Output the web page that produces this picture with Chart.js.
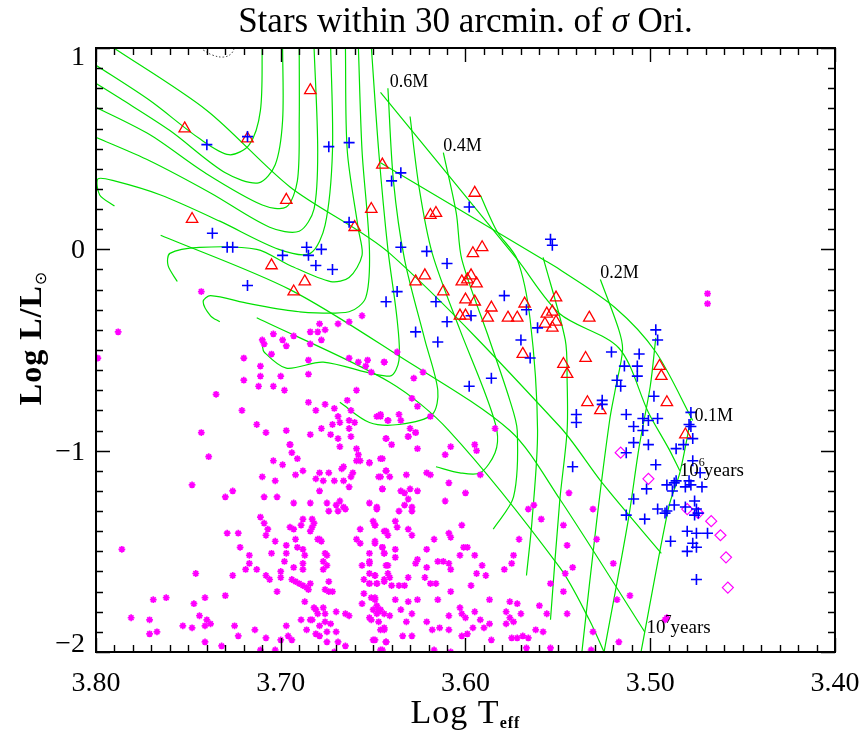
<!DOCTYPE html>
<html>
<head>
<meta charset="utf-8">
<script src="https://cdn.jsdelivr.net/npm/chart.js@4.4.0/dist/chart.umd.min.js"></script>
<style>
  html, body { margin: 0; padding: 0; background: #fff; }
  #hr { display: block; }
</style>
</head>
<body>
<canvas id="hr" width="865" height="733"></canvas>
<script>
// Log Teff / Log L values

const xTicks = [3.80, 3.70, 3.60, 3.50, 3.40];
const yTicks = [1, 0, -1, -2];

// evolutionary tracks (green)
const track01 = [[3.478,-0.84],[3.484,-1.11],[3.490,-1.28],[3.505,-2.00]];
const track015 = [[3.497,-0.44],[3.500,-0.68],[3.506,-0.98],[3.512,-1.35],[3.525,-2.00]];
const track02 = [[3.527,-0.15],[3.517,-0.40],[3.515,-0.50],[3.519,-0.70],[3.522,-0.85],[3.529,-1.35],[3.537,-2.00]];
const track025 = [[3.558,-0.04],[3.546,-0.45],[3.545,-0.65],[3.545,-0.90],[3.549,-1.25],[3.554,-1.84]];
const track03 = [[3.592,0.27],[3.583,0.09],[3.572,-0.05],[3.565,-0.35],[3.561,-0.90],[3.564,-1.35],[3.567,-1.62]];
const track04 = [[3.612,0.48],[3.605,0.18],[3.602,-0.05],[3.587,-0.45],[3.576,-0.75],[3.572,-0.90],[3.574,-1.23],[3.585,-1.39]];
const track05 = [[3.630,0.66],[3.625,0.30],[3.618,-0.02],[3.603,-0.40],[3.590,-0.70],[3.583,-0.90],[3.584,-1.01],[3.592,-1.11],[3.603,-1.11],[3.616,-1.08]];
const track06 = [[3.642,0.80],[3.639,0.34],[3.633,-0.05],[3.622,-0.45],[3.615,-0.70],[3.618,-0.82],[3.636,-0.87],[3.652,-0.86],[3.668,-0.76]];
const track07 = [[3.651,1.01],[3.647,0.49],[3.642,0.00],[3.637,-0.35],[3.636,-0.55],[3.641,-0.63],[3.677,-0.56],[3.697,-0.59],[3.709,-0.51],[3.710,-0.475]];
const track08 = [[3.658,1.01],[3.656,0.49],[3.652,0.00],[3.654,-0.24],[3.663,-0.31],[3.690,-0.31],[3.717,-0.27],[3.738,-0.23],[3.742,-0.26],[3.738,-0.33],[3.733,-0.36]];
const track09 = [[3.665,1.01],[3.664,0.49],[3.658,0.10],[3.656,-0.03],[3.663,-0.14],[3.673,-0.16],[3.695,-0.08],[3.713,0.00],[3.744,0.01],[3.760,-0.02],[3.761,-0.08],[3.756,-0.16]];
const track10 = [[3.673,1.01],[3.672,0.49],[3.676,0.12],[3.684,-0.02],[3.701,0.00],[3.733,0.14],[3.765,0.27],[3.790,0.34],[3.799,0.35],[3.798,0.27],[3.790,0.215]];
const track12 = [[3.682,1.01],[3.680,0.49],[3.682,0.20],[3.690,0.09],[3.706,0.11],[3.738,0.28],[3.771,0.44],[3.801,0.56]];
const track15 = [[3.690,1.01],[3.690,0.64],[3.691,0.34],[3.697,0.21],[3.710,0.22],[3.741,0.38],[3.771,0.57],[3.801,0.71]];
const track20 = [[3.699,1.01],[3.699,0.64],[3.703,0.42],[3.712,0.33],[3.730,0.38],[3.760,0.59],[3.787,0.75],[3.801,0.83]];
const track25 = [[3.710,1.01],[3.711,0.69],[3.717,0.52],[3.728,0.47],[3.744,0.55],[3.771,0.74],[3.801,0.92]];

// isochrones (green)
const isoYoung = [[3.646,0.43],[3.558,-0.05],[3.549,-0.10],[3.519,-0.29],[3.497,-0.51],[3.477,-0.85]];
const iso1e6 = [[3.646,0.78],[3.572,-0.05],[3.549,-0.32],[3.517,-0.49],[3.501,-0.81],[3.490,-0.99],[3.484,-1.10]];
const isoMid = [[3.792,1.01],[3.740,0.69],[3.695,0.31],[3.641,-0.02],[3.549,-0.88],[3.526,-1.16],[3.494,-1.51]];
const iso1e7 = [[3.765,0.07],[3.695,-0.20],[3.636,-0.53],[3.576,-0.90],[3.549,-1.24],[3.503,-1.90]];
const isoOld = [[3.713,-0.34],[3.641,-0.66],[3.609,-0.90],[3.549,-1.58],[3.533,-1.84],[3.525,-2.00]];

const dottedArc = [[3.742,0.99],[3.737,0.965],[3.731,0.955],[3.727,0.97],[3.725,1.0]];

// red triangles
const triStars = [
  [3.752,0.60],[3.718,0.55],[3.684,0.79],[3.697,0.245],[3.748,0.15],[3.645,0.42],[3.651,0.20],[3.660,0.11],
  [3.595,0.28],[3.619,0.17],[3.616,0.18],[3.596,-0.02],[3.591,0.01],[3.627,-0.16],[3.622,-0.13],[3.602,-0.16],
  [3.599,-0.15],[3.597,-0.13],[3.594,-0.17],[3.612,-0.21],[3.600,-0.25],[3.595,-0.26],[3.603,-0.33],[3.600,-0.33],
  [3.588,-0.34],[3.586,-0.29],[3.577,-0.34],[3.572,-0.34],[3.568,-0.27],[3.556,-0.32],[3.553,-0.31],[3.551,-0.24],
  [3.557,-0.37],[3.553,-0.39],[3.551,-0.36],[3.569,-0.52],[3.547,-0.57],[3.545,-0.62],[3.535,-0.54],[3.534,-0.76],
  [3.533,-0.34],[3.527,-0.80],[3.495,-0.58],[3.494,-0.63],[3.491,-0.76],[3.481,-0.92],[3.705,-0.08],[3.687,-0.16],
  [3.693,-0.21]
];

// blue crosses
const plusStars = [
  [3.718,0.56],[3.740,0.52],[3.674,0.51],[3.663,0.53],[3.737,0.08],[3.729,0.01],[3.726,0.01],[3.699,-0.03],
  [3.686,0.01],[3.685,-0.03],[3.678,0.00],[3.663,0.135],[3.640,0.34],[3.635,0.38],[3.598,0.21],[3.554,0.05],
  [3.553,0.02],[3.635,0.01],[3.621,-0.01],[3.610,-0.07],[3.637,-0.21],[3.643,-0.26],[3.616,-0.26],[3.610,-0.36],
  [3.627,-0.41],[3.615,-0.46],[3.597,-0.33],[3.579,-0.23],[3.567,-0.30],[3.561,-0.39],[3.570,-0.45],[3.565,-0.54],
  [3.586,-0.64],[3.598,-0.68],[3.540,-0.82],[3.540,-0.86],[3.681,-0.08],[3.672,-0.10],[3.718,-0.18],
  [3.521,-0.51],[3.506,-0.52],[3.497,-0.40],[3.496,-0.45],[3.514,-0.58],[3.507,-0.58],[3.507,-0.63],[3.518,-0.65],
  [3.516,-0.68],[3.498,-0.73],[3.526,-0.75],[3.526,-0.77],[3.513,-0.82],[3.509,-0.88],[3.504,-0.90],[3.504,-0.84],
  [3.501,-0.85],[3.496,-0.84],[3.478,-0.81],[3.479,-0.87],[3.478,-0.88],[3.477,-0.94],[3.482,-0.97],[3.509,-0.96],
  [3.501,-0.97],[3.486,-0.99],[3.513,-1.01],[3.542,-1.08],[3.497,-1.07],[3.477,-1.05],[3.473,-1.11],[3.491,-1.17],
  [3.487,-1.16],[3.488,-1.20],[3.486,-1.15],[3.479,-1.15],[3.481,-1.18],[3.478,-1.17],[3.472,-1.18],[3.502,-1.19],
  [3.509,-1.24],[3.487,-1.27],[3.496,-1.29],[3.492,-1.31],[3.491,-1.30],[3.513,-1.32],[3.503,-1.34],[3.481,-1.28],
  [3.476,-1.25],[3.475,-1.29],[3.474,-1.31],[3.476,-1.32],[3.480,-1.40],[3.475,-1.41],[3.469,-1.41],[3.489,-1.45],
  [3.477,-1.46],[3.475,-1.48],[3.480,-1.50],[3.475,-1.64]
];

// magenta diamonds
const diamondStars = [[3.516,-1.01],[3.501,-1.14],[3.480,-1.29],[3.474,-1.31],[3.467,-1.35],[3.462,-1.42],[3.459,-1.53],[3.458,-1.68]];

// magenta asterisks (field stars)
const fieldStars = [
  [3.469,-0.22],[3.469,-0.27],
  [3.544,-1.21],[3.531,-1.29],[3.547,-1.37],[3.529,-1.44],[3.545,-1.47],[3.542,-1.58],[3.546,-1.61],[3.520,-1.56],
  [3.547,-1.70],[3.511,-1.72],[3.518,-1.74],[3.545,-1.81],[3.531,-1.90],[3.517,-1.95],[3.532,-1.99],[3.491,-1.83],[3.492,-1.84],
  [3.643,-0.94],[3.640,-0.97],[3.631,-0.93],[3.627,-0.91],[3.626,-0.99],[3.645,-1.04],[3.652,-1.06],[3.643,-1.10],
  [3.646,-1.13],[3.641,-1.13],[3.632,-1.12],[3.621,-1.11],[3.619,-1.12],[3.608,-0.98],[3.611,-1.02],[3.595,-0.97],
  [3.594,-1.00],[3.592,-1.12],[3.609,-1.16],[3.600,-1.21],[3.645,-1.19],[3.635,-1.20],[3.633,-1.21],[3.630,-1.19],
  [3.626,-1.20],[3.631,-1.24],[3.652,-1.26],[3.648,-1.29],[3.633,-1.27],[3.629,-1.28],[3.629,-1.30],[3.636,-1.30],
  [3.611,-1.25],[3.566,-1.29],[3.563,-1.27],[3.559,-1.34],[3.571,-1.44],[3.554,-1.66],[3.556,-1.81],[3.560,-1.77],
  [3.649,-1.37],[3.644,-1.40],[3.642,-1.42],[3.637,-1.38],[3.638,-1.35],[3.631,-1.39],[3.629,-1.42],[3.649,-1.46],
  [3.617,-1.44],[3.609,-1.41],[3.608,-1.43],[3.602,-1.37],[3.645,-1.48],[3.638,-1.49],[3.644,-1.51],[3.638,-1.53],
  [3.652,-1.55],[3.642,-1.57],[3.642,-1.61],[3.641,-1.63],[3.649,-1.62],[3.644,-1.65],[3.648,-1.66],[3.652,-1.66],
  [3.640,-1.67],[3.636,-1.67],[3.633,-1.67],[3.631,-1.63],[3.627,-1.56],[3.626,-1.54],[3.621,-1.58],[3.622,-1.63],
  [3.619,-1.66],[3.616,-1.66],[3.615,-1.55],[3.612,-1.55],[3.609,-1.56],[3.608,-1.59],[3.621,-1.49],[3.601,-1.48],
  [3.599,-1.48],[3.603,-1.52],[3.595,-1.52],[3.591,-1.57],[3.589,-1.62],[3.594,-1.61],[3.597,-1.67],[3.608,-1.70],
  [3.615,-1.74],[3.626,-1.74],[3.631,-1.75],[3.638,-1.74],[3.649,-1.73],[3.650,-1.79],[3.648,-1.81],[3.647,-1.85],
  [3.641,-1.82],[3.635,-1.79],[3.629,-1.81],[3.632,-1.85],[3.644,-1.89],[3.634,-1.92],[3.629,-1.92],[3.649,-1.94],
  [3.643,-1.95],[3.645,-1.99],[3.621,-1.85],[3.618,-1.89],[3.614,-1.88],[3.609,-1.89],[3.609,-1.82],[3.603,-1.78],
  [3.602,-1.81],[3.600,-1.83],[3.595,-1.80],[3.592,-1.84],[3.590,-1.88],[3.587,-1.86],[3.596,-1.88],[3.602,-1.92],
  [3.599,-1.91],[3.586,-1.94],[3.587,-1.74],[3.579,-1.59],[3.574,-1.52],[3.575,-1.56],[3.576,-1.75],[3.572,-1.76],
  [3.578,-1.80],[3.576,-1.83],[3.574,-1.85],[3.578,-1.86],[3.570,-1.81],[3.562,-1.89],[3.558,-1.90],[3.569,-1.92],
  [3.572,-1.93],[3.575,-1.93],[3.566,-1.93],[3.567,-1.98],[3.554,-1.98],[3.617,-1.99],[3.608,-2.00],
  [3.743,-0.21],[3.788,-0.41],[3.799,-0.54],[3.679,-0.37],[3.669,-0.37],[3.663,-0.36],[3.656,-0.33],[3.704,-0.42],
  [3.710,-0.45],[3.709,-0.47],[3.699,-0.45],[3.697,-0.48],[3.693,-0.43],[3.684,-0.41],[3.680,-0.41],[3.676,-0.40],
  [3.678,-0.45],[3.684,-0.47],[3.705,-0.52],[3.720,-0.54],[3.711,-0.58],[3.711,-0.63],[3.720,-0.65],[3.712,-0.68],
  [3.700,-0.63],[3.704,-0.68],[3.698,-0.70],[3.735,-0.72],[3.721,-0.80],[3.713,-0.87],[3.708,-0.91],[3.697,-0.90],
  [3.743,-0.91],[3.695,-0.97],[3.685,-0.55],[3.685,-0.62],[3.685,-0.76],[3.681,-0.80],[3.676,-0.77],[3.678,-0.89],
  [3.684,-0.92],[3.673,-0.92],[3.671,-0.79],[3.669,-0.83],[3.668,-0.86],[3.672,-0.87],[3.664,-0.75],[3.662,-0.80],
  [3.663,-0.85],[3.660,-0.86],[3.663,-0.89],[3.662,-0.93],[3.669,-0.94],[3.668,-0.98],[3.663,-0.54],[3.658,-0.56],
  [3.654,-0.58],[3.653,-0.55],[3.651,-0.61],[3.644,-0.56],[3.659,-0.70],[3.648,-0.83],[3.646,-0.82],[3.642,-0.85],
  [3.643,-0.94],[3.659,-0.99],
  [3.739,-1.03],[3.748,-1.17],[3.730,-1.23],[3.726,-1.20],[3.786,-1.49],[3.781,-1.83],[3.771,-1.84],[3.771,-1.91],
  [3.767,-1.90],[3.769,-1.74],[3.762,-1.73],[3.753,-1.87],[3.748,-1.88],[3.747,-1.76],[3.746,-1.61],[3.744,-1.82],
  [3.741,-1.73],[3.740,-1.84],[3.741,-1.87],[3.738,-1.86],[3.741,-1.95],[3.732,-1.97],[3.729,-1.41],[3.723,-1.41],
  [3.722,-1.48],[3.726,-1.62],[3.730,-1.72],[3.725,-1.87],[3.723,-1.92],[3.717,-1.52],[3.717,-1.56],[3.719,-1.59],
  [3.713,-1.59],[3.714,-1.89],[3.708,-1.93],[3.711,-1.99],[3.710,-1.13],[3.709,-1.23],[3.704,-1.05],[3.703,-1.15],
  [3.702,-1.23],[3.699,-1.07],[3.711,-1.33],[3.709,-1.36],[3.707,-1.39],[3.708,-1.42],[3.703,-1.45],[3.705,-1.51],
  [3.708,-1.62],[3.706,-1.64],[3.700,-1.63],[3.702,-1.70],[3.700,-1.60],[3.698,-1.55],[3.697,-1.47],[3.697,-1.51],
  [3.703,-1.99],[3.700,-1.94],[3.697,-1.87],[3.696,-1.92],[3.694,-1.94],[3.695,-0.97],[3.694,-1.01],[3.691,-1.04],
  [3.688,-1.10],[3.692,-1.12],[3.693,-1.26],[3.695,-1.38],[3.693,-1.39],[3.689,-1.37],[3.691,-1.48],[3.688,-1.49],
  [3.693,-1.58],[3.688,-1.59],[3.692,-1.44],[3.694,-1.64],[3.692,-1.65],[3.690,-1.66],[3.688,-1.67],[3.686,-1.68],
  [3.684,-1.66],[3.685,-1.69],[3.687,-1.75],[3.689,-1.84],[3.684,-1.84],[3.686,-1.89],[3.687,-1.52],[3.688,-1.56],
  [3.684,-1.26],[3.683,-1.34],[3.683,-1.38],[3.682,-1.36],[3.684,-1.40],[3.680,-1.44],[3.679,-1.44],[3.678,-1.45],
  [3.676,-1.51],[3.677,-1.55],[3.675,-1.52],[3.675,-1.57],[3.677,-1.59],[3.674,-1.65],[3.672,-1.70],[3.674,-1.70],
  [3.676,-1.69],[3.681,-1.79],[3.682,-1.78],[3.680,-1.81],[3.677,-1.78],[3.676,-1.81],[3.679,-1.87],[3.683,-1.84],
  [3.681,-1.91],[3.679,-1.92],[3.676,-1.85],[3.675,-1.90],[3.670,-1.90],[3.673,-1.86],[3.670,-1.80],[3.675,-1.95],
  [3.671,-2.00],[3.665,-1.97],[3.669,-1.95],[3.681,-1.14],[3.677,-1.15],[3.679,-1.11],[3.674,-1.11],[3.671,-1.15],
  [3.675,-1.26],[3.670,-1.27],[3.669,-1.30],[3.666,-1.28],[3.665,-1.29],[3.668,-1.25],[3.674,-1.30],[3.666,-1.15],
  [3.666,-1.08],[3.667,-1.09],[3.661,-1.11],[3.662,-1.13],[3.659,-1.05],[3.658,-1.02],[3.657,-1.05],[3.652,-1.06],
  [3.663,-1.18],[3.647,-1.13],[3.645,-1.19],[3.643,-1.10],[3.646,-1.04],[3.648,-1.28],[3.650,-1.35],[3.649,-1.37],
  [3.643,-1.40],[3.659,-1.44],[3.657,-1.39],[3.657,-1.46],[3.656,-1.57],[3.652,-1.56],[3.652,-1.51],[3.649,-1.45],
  [3.645,-1.48],[3.644,-1.51],[3.643,-1.57],[3.655,-1.64],[3.652,-1.66],[3.652,-1.61],[3.649,-1.62],[3.648,-1.66],
  [3.644,-1.64],[3.651,-1.73],[3.656,-1.76],[3.649,-1.74],[3.648,-1.77],[3.647,-1.79],[3.646,-1.79],[3.644,-1.81],
  [3.652,-1.83],[3.651,-1.84],[3.647,-1.80],[3.644,-1.88],[3.646,-1.89],[3.650,-1.94],[3.643,-1.95],[3.646,-1.99],
  [3.655,-1.71],[3.663,-1.82],[3.665,-1.81],[3.679,-1.20],[3.688,-1.34],
  [3.637,-0.51],[3.644,-0.56],[3.628,-0.64],[3.623,-0.61],[3.629,-0.74],[3.626,-0.78],[3.619,-0.83],[3.646,-0.83],
  [3.642,-0.85],[3.636,-0.82],[3.635,-0.85],[3.630,-0.89],[3.627,-0.91],[3.631,-0.93],[3.584,-0.89]
];

const massLabels = [
  { text: '0.6M', at: [3.641, 0.83] },
  { text: '0.4M', at: [3.612, 0.51] },
  { text: '0.2M', at: [3.527, -0.12] },
  { text: '0.1M', at: [3.476, -0.83] }
];
const ageLabels = [
  { base: '10', exp: '6', unit: 'years', at: [3.484, -1.10] },
  { base: '10', exp: '7', unit: 'years', at: [3.502, -1.88] }
];

const greenLines = [track01, track015, track02, track025, track03, track04, track05, track06, track07,
  track08, track09, track10, track12, track15, track20, track25, isoYoung, iso1e6, isoMid, iso1e7, isoOld];

const SERIF = '"Liberation Serif", "DejaVu Serif", serif';
const GREEN = 'rgb(0,225,0)';
const MAGENTA = '#ff00ff';

const pts = arr => arr.map(([t, l]) => ({ x: t, y: l }));

const datasets = [];
greenLines.forEach(line => {
  datasets.push({
    data: pts(line), showLine: true, borderColor: GREEN, borderWidth: 1.2,
    pointRadius: 0, tension: 0.3, order: 10
  });
});
datasets.push({
  data: pts(dottedArc), showLine: true, borderColor: '#444', borderWidth: 1,
  borderDash: [1.5, 2], pointRadius: 0, tension: 0.4, order: 9
});
datasets.push({
  data: pts(fieldStars), pointStyle: 'star', pointRadius: 3.4, pointBorderWidth: 1.7,
  borderColor: MAGENTA, backgroundColor: MAGENTA, order: 5
});
datasets.push({
  data: pts(diamondStars), pointStyle: 'rectRot', pointRadius: 5.5, pointBorderWidth: 1.2,
  borderColor: MAGENTA, backgroundColor: 'rgba(0,0,0,0)', order: 4
});
datasets.push({
  data: pts(triStars), pointStyle: 'triangle', pointRadius: 6.6, pointBorderWidth: 1.3,
  borderColor: '#ff0000', backgroundColor: 'rgba(0,0,0,0)', order: 3
});
datasets.push({
  data: pts(plusStars), pointStyle: 'cross', pointRadius: 5.5, pointBorderWidth: 1.6,
  borderColor: '#0000ff', backgroundColor: '#0000ff', order: 2
});

const frame = {
  id: 'frame',
  afterDraw(chart) {
    const { ctx, chartArea: a, scales: { x, y } } = chart;
    ctx.save();
    ctx.strokeStyle = '#000';
    ctx.fillStyle = '#000';

    // minor / major ticks on all four sides, inward
    ctx.lineWidth = 1.4;
    ctx.beginPath();
    for (let i = 0; i <= 40; i++) {
      const px = Math.round(x.getPixelForValue(3.40 + i * 0.01)) + 0.5;
      const len = i % 10 === 0 ? 14 : 7;
      ctx.moveTo(px, a.bottom); ctx.lineTo(px, a.bottom - len);
      ctx.moveTo(px, a.top); ctx.lineTo(px, a.top + len);
    }
    for (let i = 0; i <= 30; i++) {
      const py = Math.round(y.getPixelForValue(-2 + i * 0.1)) + 0.5;
      const len = i % 10 === 0 ? 14 : 7;
      ctx.moveTo(a.left, py); ctx.lineTo(a.left + len, py);
      ctx.moveTo(a.right, py); ctx.lineTo(a.right - len, py);
    }
    ctx.stroke();
    ctx.lineWidth = 2;
    ctx.strokeRect(a.left, a.top, a.right - a.left, a.bottom - a.top);

    // tick labels
    ctx.font = `28px ${SERIF}`;
    ctx.textAlign = 'center';
    ctx.textBaseline = 'alphabetic';
    xTicks.forEach(v => ctx.fillText(v.toFixed(2), x.getPixelForValue(v), a.bottom + 39));
    ctx.textAlign = 'right';
    yTicks.forEach(v => {
      const base = Math.min(Math.max(y.getPixelForValue(v) + 9, a.top + 17), a.bottom);
      ctx.fillText(v < 0 ? '\u2212' + Math.abs(v) : String(v), a.left - 11, base);
    });

    // title
    ctx.textAlign = 'left';
    const tf = `35px ${SERIF}`, tfi = `italic 35px ${SERIF}`;
    const t1 = 'Stars within 30 arcmin. of ', t3 = ' Ori.';
    ctx.font = tf;
    const w1 = ctx.measureText(t1).width, w3 = ctx.measureText(t3).width;
    ctx.font = tfi;
    const w2 = ctx.measureText('\u03c3').width;
    const tx = (a.left + a.right) / 2 - (w1 + w2 + w3) / 2;
    ctx.font = tf; ctx.fillText(t1, tx, 32);
    ctx.font = tfi; ctx.fillText('\u03c3', tx + w1, 32);
    ctx.font = tf; ctx.fillText(t3, tx + w1 + w2, 32);

    // x title: Log T_eff
    ctx.letterSpacing = '1px';
    ctx.font = `34px ${SERIF}`;
    const xw1 = ctx.measureText('Log T').width;
    ctx.font = `bold 16px ${SERIF}`;
    const xw2 = ctx.measureText('eff').width;
    const xx = (a.left + a.right) / 2 - (xw1 + xw2) / 2;
    ctx.font = `34px ${SERIF}`; ctx.fillText('Log T', xx, 723);
    ctx.font = `bold 16px ${SERIF}`; ctx.fillText('eff', xx + xw1, 728);

    // y title: Log L/L_sun
    ctx.save();
    ctx.letterSpacing = '1px';
    ctx.translate(41, (a.top + a.bottom) / 2 - 12);
    ctx.rotate(-Math.PI / 2);
    ctx.font = `bold 32px ${SERIF}`;
    const yw1 = ctx.measureText('Log L/L').width;
    ctx.font = `16px "DejaVu Sans", sans-serif`;
    const yw2 = ctx.measureText('\u2299').width;
    const y0 = -(yw1 + yw2) / 2;
    ctx.font = `bold 32px ${SERIF}`; ctx.fillText('Log L/L', y0, 0);
    ctx.font = `16px "DejaVu Sans", sans-serif`; ctx.fillText('\u2299', y0 + yw1, 5);
    ctx.restore();
    ctx.letterSpacing = '0px';

    // track and isochrone labels
    ctx.textBaseline = 'middle';
    ctx.font = `18px ${SERIF}`;
    massLabels.forEach(m => ctx.fillText(m.text, x.getPixelForValue(m.at[0]), y.getPixelForValue(m.at[1])));
    ageLabels.forEach(l => {
      const px = x.getPixelForValue(l.at[0]), py = y.getPixelForValue(l.at[1]);
      ctx.font = `19px ${SERIF}`;
      ctx.fillText(l.base, px, py);
      const wb = ctx.measureText(l.base).width;
      ctx.font = `12px ${SERIF}`;
      ctx.fillText(l.exp, px + wb, py - 8);
      ctx.font = `19px ${SERIF}`;
      ctx.fillText(l.unit, px + wb + 5, py);
    });
    ctx.restore();
  }
};

new Chart(document.getElementById('hr'), {
  type: 'scatter',
  data: { datasets },
  options: {
    responsive: false,
    devicePixelRatio: 1,
    animation: false,
    layout: { padding: { left: 0, right: 30, top: 48, bottom: 0 } },
    plugins: { legend: { display: false }, tooltip: { enabled: false }, title: { display: false } },
    scales: {
      x: {
        type: 'linear', min: 3.40, max: 3.80, reverse: true,
        grid: { display: false }, border: { display: false },
        ticks: { display: false, stepSize: 0.1 },
        afterFit: s => { s.height = 81; }
      },
      y: {
        type: 'linear', min: -2, max: 1,
        grid: { display: false }, border: { display: false },
        ticks: { display: false, stepSize: 1 },
        afterFit: s => { s.width = 96; }
      }
    }
  },
  plugins: [frame]
});
</script>
</body>
</html>
